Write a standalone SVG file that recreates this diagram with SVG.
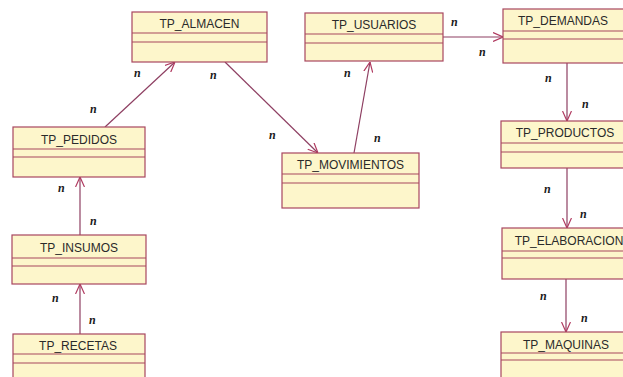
<svg xmlns="http://www.w3.org/2000/svg" width="623" height="377" viewBox="0 0 623 377">
  <style>
    .box { fill: #fdf6cb; stroke: #a8465f; stroke-width: 1.2; }
    .sep { stroke: #a8465f; stroke-width: 1.2; }
    .title { font-family: "Liberation Sans", Arial, sans-serif; font-size: 12px; fill: #2a2a2a; text-anchor: middle; }
    .card { font-family: "Liberation Serif", serif; font-size: 12px; font-style: italic; font-weight: bold; fill: #1a1a1a; }
    .conn { fill: none; stroke: #8e3f62; stroke-width: 1.2; }
  </style>
  <defs>
    <marker id="open" viewBox="0 0 10 10" refX="10" refY="5" markerWidth="10" markerHeight="10" markerUnits="userSpaceOnUse" orient="auto">
      <path d="M0,0.5 L10,5 L0,9.5" fill="none" stroke="#b03a60" stroke-width="1.2"/>
    </marker>
  </defs>
  <rect width="623" height="377" fill="#ffffff"/>

  <g id="connectors">
    <line class="conn" x1="105" y1="127" x2="175" y2="62" marker-end="url(#open)"/>
    <line class="conn" x1="225" y1="62" x2="318" y2="153" marker-end="url(#open)"/>
    <line class="conn" x1="354" y1="153" x2="370" y2="62" marker-end="url(#open)"/>
    <line class="conn" x1="443" y1="37" x2="503" y2="37" marker-end="url(#open)"/>
    <line class="conn" x1="567" y1="63" x2="567" y2="121" marker-end="url(#open)"/>
    <line class="conn" x1="567" y1="168" x2="567" y2="228" marker-end="url(#open)"/>
    <line class="conn" x1="566" y1="279" x2="566" y2="332" marker-end="url(#open)"/>
    <line class="conn" x1="80" y1="235" x2="80" y2="177" marker-end="url(#open)"/>
    <line class="conn" x1="80" y1="334" x2="80" y2="284" marker-end="url(#open)"/>
    <text class="card" x="134" y="77">n</text>
    <text class="card" x="90" y="113">n</text>
    <text class="card" x="210" y="79">n</text>
    <text class="card" x="269" y="139">n</text>
    <text class="card" x="344" y="77">n</text>
    <text class="card" x="374" y="142">n</text>
    <text class="card" x="451" y="26">n</text>
    <text class="card" x="479" y="56">n</text>
    <text class="card" x="545" y="82">n</text>
    <text class="card" x="582" y="108">n</text>
    <text class="card" x="544" y="193">n</text>
    <text class="card" x="580" y="218">n</text>
    <text class="card" x="540" y="300">n</text>
    <text class="card" x="581" y="322">n</text>
    <text class="card" x="58" y="192">n</text>
    <text class="card" x="90" y="225">n</text>
    <text class="card" x="52" y="302">n</text>
    <text class="card" x="89" y="324">n</text>
  </g>

  <g id="tp_almacen">
    <rect class="box" x="132" y="12" width="135" height="50"/>
    <line class="sep" x1="132" y1="33" x2="267" y2="33"/>
    <line class="sep" x1="132" y1="42" x2="267" y2="42"/>
    <text class="title" x="199.5" y="28">TP_ALMACEN</text>
  </g>

  <g id="tp_usuarios">
    <rect class="box" x="305" y="13" width="138" height="48"/>
    <line class="sep" x1="305" y1="34" x2="443" y2="34"/>
    <line class="sep" x1="305" y1="43" x2="443" y2="43"/>
    <text class="title" x="374" y="29">TP_USUARIOS</text>
  </g>

  <g id="tp_demandas">
    <rect class="box" x="503" y="9" width="140" height="54"/>
    <line class="sep" x1="503" y1="31" x2="623" y2="31"/>
    <line class="sep" x1="503" y1="39" x2="623" y2="39"/>
    <text class="title" x="563" y="25">TP_DEMANDAS</text>
  </g>

  <g id="tp_pedidos">
    <rect class="box" x="13" y="127" width="132" height="50"/>
    <line class="sep" x1="13" y1="149" x2="145" y2="149"/>
    <line class="sep" x1="13" y1="157" x2="145" y2="157"/>
    <text class="title" x="79" y="144">TP_PEDIDOS</text>
  </g>

  <g id="tp_movimientos">
    <rect class="box" x="282" y="153" width="137" height="55"/>
    <line class="sep" x1="282" y1="174" x2="419" y2="174"/>
    <line class="sep" x1="282" y1="183" x2="419" y2="183"/>
    <text class="title" x="350.5" y="169">TP_MOVIMIENTOS</text>
  </g>

  <g id="tp_productos">
    <rect class="box" x="501" y="121" width="140" height="47"/>
    <line class="sep" x1="501" y1="143" x2="623" y2="143"/>
    <line class="sep" x1="501" y1="152" x2="623" y2="152"/>
    <text class="title" x="565" y="137">TP_PRODUCTOS</text>
  </g>

  <g id="tp_insumos">
    <rect class="box" x="12" y="235" width="134" height="49"/>
    <line class="sep" x1="12" y1="258" x2="146" y2="258"/>
    <line class="sep" x1="12" y1="266" x2="146" y2="266"/>
    <text class="title" x="79" y="252">TP_INSUMOS</text>
  </g>

  <g id="tp_elaboracion">
    <rect class="box" x="502" y="228" width="140" height="51"/>
    <line class="sep" x1="502" y1="251" x2="623" y2="251"/>
    <line class="sep" x1="502" y1="258" x2="623" y2="258"/>
    <text class="title" x="569" y="245">TP_ELABORACION</text>
  </g>

  <g id="tp_recetas">
    <rect class="box" x="13" y="334" width="132" height="50"/>
    <line class="sep" x1="13" y1="354" x2="145" y2="354"/>
    <line class="sep" x1="13" y1="363" x2="145" y2="363"/>
    <text class="title" x="78" y="350">TP_RECETAS</text>
  </g>

  <g id="tp_maquinas">
    <rect class="box" x="501" y="332" width="140" height="52"/>
    <line class="sep" x1="501" y1="353" x2="623" y2="353"/>
    <line class="sep" x1="501" y1="360" x2="623" y2="360"/>
    <text class="title" x="566" y="349">TP_MAQUINAS</text>
  </g>
</svg>
